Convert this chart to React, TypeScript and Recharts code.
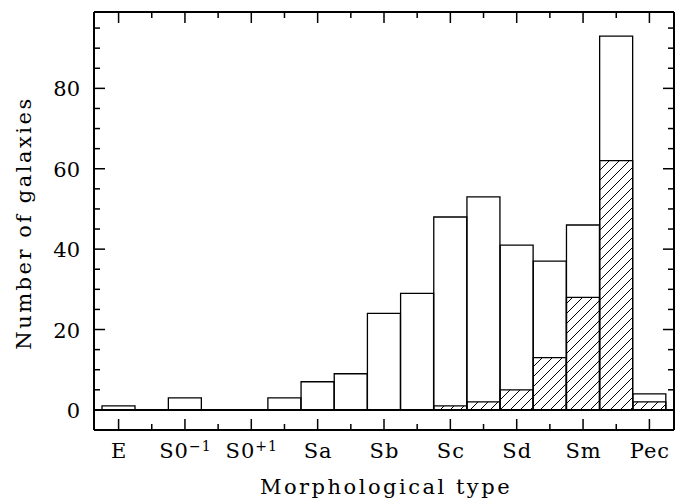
import React from 'react';
import { BarChart, Bar, XAxis, YAxis, Label } from 'recharts';

// 17 morphological bins (E ... Pec), labelled every second bin
const bins = ['0','1','2','3','4','5','6','7','8','9','10','11','12','13','14','15','16'];
const totalCounts = [1, 0, 3, 0, 0, 3, 7, 9, 24, 29, 48, 53, 41, 37, 46, 93, 4];
const hatchedCounts = [0, 0, 0, 0, 0, 0, 0, 0, 0, 0, 1, 2, 5, 13, 28, 62, 2];
const tickLabels = [
  { base: 'E', sup: '' },
  { base: 'S0', sup: '\u22121' },
  { base: 'S0', sup: '+1' },
  { base: 'Sa', sup: '' },
  { base: 'Sb', sup: '' },
  { base: 'Sc', sup: '' },
  { base: 'Sd', sup: '' },
  { base: 'Sm', sup: '' },
  { base: 'Pec', sup: '' },
];
const yTicks = [0, 5, 10, 15, 20, 25, 30, 35, 40, 45, 50, 55, 60, 65, 70, 75, 80, 85, 90, 95];

const data = bins.map((b, i) => ({ bin: b, total: totalCounts[i], hatched: hatchedCounts[i] }));

const PLOT_LEFT = 94;
const PLOT_RIGHT = 674;
const PLOT_TOP = 12;
const PLOT_BOTTOM = 430;
const FONT = 'DejaVu Serif';

const XTick = (props: any) => {
  const { x, payload } = props;
  const idx = bins.indexOf(String(payload.value));
  const major = idx % 2 === 0;
  const len = major ? 11 : 6;
  const lab = major ? tickLabels[idx / 2] : null;
  return (
    <g>
      <line x1={x} x2={x} y1={PLOT_BOTTOM} y2={PLOT_BOTTOM - len} stroke="#000" strokeWidth={1.5} />
      <line x1={x} x2={x} y1={PLOT_TOP} y2={PLOT_TOP + len} stroke="#000" strokeWidth={1.5} />
      {lab && (
        <text x={x + 0.5} y={458} textAnchor="middle" fontFamily={FONT} fontSize={21} letterSpacing={1} fill="#000">
          <tspan>{lab.base}</tspan>
          {lab.sup && (
            <tspan fontSize={14} dy={-7}>
              {lab.sup}
            </tspan>
          )}
        </text>
      )}
    </g>
  );
};

const YTick = (props: any) => {
  const { y, payload } = props;
  const v = Number(payload.value);
  const major = v % 20 === 0;
  const len = major ? 11 : 6;
  return (
    <g>
      {v === 0 && (
        <line x1={PLOT_LEFT} x2={PLOT_RIGHT} y1={y} y2={y} stroke="#000" strokeWidth={2} />
      )}
      <line x1={PLOT_LEFT} x2={PLOT_LEFT + len} y1={y} y2={y} stroke="#000" strokeWidth={1.5} />
      <line x1={PLOT_RIGHT - len} x2={PLOT_RIGHT} y1={y} y2={y} stroke="#000" strokeWidth={1.5} />
      {major && (
        <text x={80} y={y + 8} textAnchor="end" fontFamily={FONT} fontSize={21} fill="#000">
          {v}
        </text>
      )}
    </g>
  );
};

export default function App() {
  return (
    <div style={{ position: 'absolute', left: 0, top: 0, background: '#fff' }}>
      <BarChart
        width={677}
        height={500}
        data={data}
        margin={{ top: 0, right: 0, bottom: 0, left: 0 }}
        barCategoryGap={0}
        barGap={0}
      >
        <defs>
          <pattern id="hatch" patternUnits="userSpaceOnUse" width={10} height={10}>
            <path d="M0,10 L10,0 M-2,2 L2,-2 M8,12 L12,8" stroke="#000" strokeWidth={1} />
          </pattern>
        </defs>
        <XAxis
          xAxisId="x"
          dataKey="bin"
          orientation="bottom"
          height={70}
          padding={{ left: 8, right: 8 }}
          interval={0}
          tickLine={false}
          axisLine={{ stroke: '#000', strokeWidth: 2 }}
          tick={<XTick />}
        >
          <Label
            content={() => (
              <text x={386} y={494} textAnchor="middle" fontFamily={FONT} fontSize={21} letterSpacing={2.5} fill="#000">
                Morphological type
              </text>
            )}
          />
        </XAxis>
        <XAxis
          xAxisId="xt"
          dataKey="bin"
          orientation="top"
          height={12}
          padding={{ left: 8, right: 8 }}
          tick={false}
          tickLine={false}
          axisLine={{ stroke: '#000', strokeWidth: 2 }}
        />
        <YAxis
          yAxisId="y"
          type="number"
          domain={[-5, 99]}
          allowDataOverflow
          ticks={yTicks}
          interval={0}
          width={94}
          tickLine={false}
          axisLine={{ stroke: '#000', strokeWidth: 2 }}
          tick={<YTick />}
        >
          <Label
            content={() => (
              <text
                x={31}
                y={223}
                transform="rotate(-90 31 223)"
                textAnchor="middle"
                fontFamily={FONT}
                fontSize={21}
                letterSpacing={2.5}
                fill="#000"
              >
                Number of galaxies
              </text>
            )}
          />
        </YAxis>
        <YAxis
          yAxisId="r"
          orientation="right"
          type="number"
          domain={[-5, 99]}
          width={3}
          tick={false}
          tickLine={false}
          axisLine={{ stroke: '#000', strokeWidth: 2 }}
        />
        <Bar
          dataKey="total"
          xAxisId="x"
          yAxisId="y"
          fill="none"
          stroke="#000"
          strokeWidth={1.3}
          isAnimationActive={false}
        />
        <Bar
          dataKey="hatched"
          xAxisId="xt"
          yAxisId="y"
          fill="url(#hatch)"
          stroke="#000"
          strokeWidth={1.3}
          isAnimationActive={false}
        />
      </BarChart>
    </div>
  );
}
